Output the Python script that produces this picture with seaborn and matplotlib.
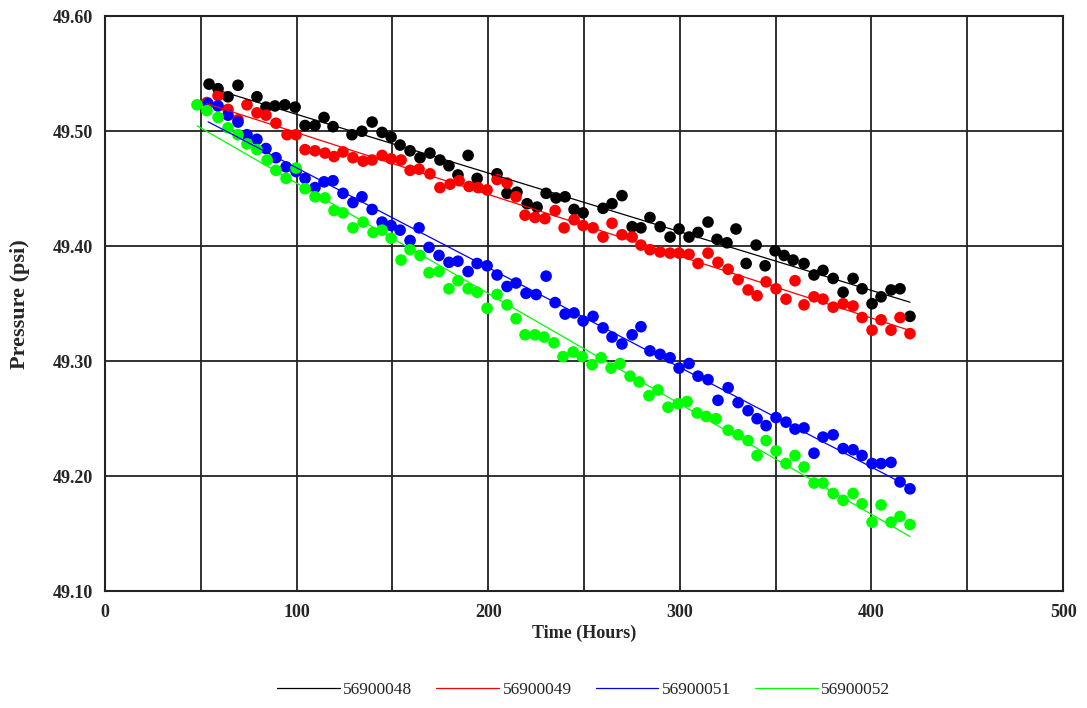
import numpy as np
import matplotlib.pyplot as plt
import seaborn as sns
import pandas as pd

# hours and pressure per transducer
h_48 = [54.3, 59.0, 64.2, 69.4, 79.3, 84.0, 88.7, 93.9, 99.2, 104.4, 109.6, 114.3, 119.0,
        128.9, 134.1, 139.4, 144.6, 149.3, 154.0, 159.2, 164.4, 169.6, 174.8, 179.5, 184.2,
        189.5, 194.2, 204.6, 209.8, 215.0, 220.3, 225.5, 230.2, 235.4, 240.1, 244.8, 249.5,
        259.9, 264.6, 269.8, 275.1, 279.7, 284.4, 289.7, 294.9, 299.6, 304.8, 309.5, 314.7,
        319.4, 324.6, 329.3, 334.6, 339.8, 344.5, 349.7, 354.4, 359.1, 364.8, 370.0, 374.7,
        380.0, 385.2, 390.4, 395.1, 400.3, 405.0, 410.2, 414.9, 420.1]
p_48 = [49.541, 49.537, 49.530, 49.540, 49.530, 49.521, 49.522, 49.523, 49.521, 49.505, 49.505,
        49.512, 49.504, 49.497, 49.500, 49.508, 49.499, 49.495, 49.488, 49.483, 49.477, 49.481,
        49.475, 49.470, 49.462, 49.479, 49.459, 49.463, 49.446, 49.447, 49.437, 49.434, 49.446,
        49.442, 49.443, 49.432, 49.429, 49.433, 49.437, 49.444, 49.417, 49.416, 49.425, 49.417,
        49.408, 49.415, 49.408, 49.412, 49.421, 49.406, 49.403, 49.415, 49.385, 49.401, 49.383,
        49.396, 49.392, 49.388, 49.385, 49.375, 49.379, 49.372, 49.360, 49.372, 49.363, 49.350,
        49.356, 49.362, 49.363, 49.339]

h_49 = [53.2, 59.0, 64.2, 69.4, 74.1, 79.3, 84.0, 89.2, 95.0, 99.7, 104.4, 109.6, 114.8, 119.5,
        124.2, 129.4, 134.7, 139.4, 144.6, 149.3, 154.5, 159.2, 163.9, 169.6, 174.8, 180.1,
        184.8, 190.0, 194.7, 199.4, 204.6, 209.8, 214.5, 219.2, 224.4, 229.6, 234.9, 239.6,
        244.8, 249.5, 254.7, 259.9, 264.6, 269.8, 275.1, 279.7, 284.4, 289.7, 294.9, 299.6,
        304.8, 309.5, 314.7, 319.9, 325.2, 330.4, 335.6, 340.3, 345.0, 350.2, 355.4, 360.1,
        364.8, 370.0, 374.7, 380.0, 385.2, 390.4, 395.1, 400.3, 405.0, 410.2, 414.9, 420.1]
p_49 = [49.525, 49.531, 49.519, 49.510, 49.523, 49.516, 49.514, 49.507, 49.497, 49.497, 49.484,
        49.483, 49.481, 49.478, 49.482, 49.477, 49.474, 49.475, 49.479, 49.476, 49.475, 49.466,
        49.467, 49.463, 49.451, 49.454, 49.457, 49.452, 49.451, 49.449, 49.458, 49.455, 49.443,
        49.427, 49.425, 49.424, 49.431, 49.416, 49.423, 49.418, 49.416, 49.408, 49.420, 49.410,
        49.408, 49.401, 49.397, 49.395, 49.394, 49.394, 49.393, 49.385, 49.394, 49.386, 49.380,
        49.371, 49.362, 49.357, 49.369, 49.363, 49.354, 49.370, 49.349, 49.356, 49.354, 49.347,
        49.350, 49.348, 49.338, 49.327, 49.336, 49.327, 49.338, 49.324]

h_51 = [53.8, 59.0, 64.2, 69.4, 74.1, 79.3, 84.0, 89.2, 94.5, 99.7, 104.4, 109.6, 114.3, 119.0,
        124.2, 129.4, 134.1, 139.4, 144.6, 149.3, 154.0, 159.2, 163.9, 169.1, 174.3, 179.5,
        184.2, 189.5, 194.2, 199.4, 204.6, 209.8, 214.5, 219.7, 225.0, 230.2, 234.9, 240.1,
        244.8, 249.5, 254.7, 259.9, 264.6, 269.8, 275.1, 279.7, 284.4, 289.7, 294.9, 299.6,
        304.8, 309.5, 314.7, 319.9, 325.2, 330.4, 335.6, 340.3, 345.0, 350.2, 355.4, 360.1,
        364.8, 370.0, 374.7, 380.0, 385.2, 390.4, 395.1, 400.3, 405.0, 410.2, 414.9, 420.1]
p_51 = [49.524, 49.522, 49.514, 49.508, 49.497, 49.493, 49.485, 49.477, 49.469, 49.465, 49.459,
        49.451, 49.456, 49.457, 49.446, 49.438, 49.443, 49.432, 49.421, 49.418, 49.414, 49.405,
        49.416, 49.399, 49.392, 49.386, 49.387, 49.378, 49.385, 49.383, 49.375, 49.365, 49.368,
        49.359, 49.358, 49.374, 49.351, 49.341, 49.342, 49.335, 49.339, 49.329, 49.321, 49.315,
        49.323, 49.330, 49.309, 49.306, 49.303, 49.294, 49.298, 49.287, 49.284, 49.266, 49.277,
        49.264, 49.257, 49.250, 49.244, 49.251, 49.247, 49.241, 49.242, 49.220, 49.234, 49.236,
        49.224, 49.223, 49.218, 49.211, 49.211, 49.212, 49.195, 49.189]

h_52 = [48.0, 53.2, 59.0, 64.2, 69.4, 74.1, 79.3, 84.6, 89.2, 94.5, 99.7, 104.4, 109.6, 114.8,
        119.5, 124.2, 129.4, 134.7, 139.9, 144.6, 149.3, 154.5, 159.2, 164.4, 169.1, 174.3,
        179.5, 184.2, 189.5, 194.2, 199.4, 204.6, 209.8, 214.5, 219.2, 224.4, 229.1, 234.3,
        239.0, 244.3, 249.0, 254.2, 258.9, 264.1, 268.8, 274.0, 278.7, 283.9, 288.6, 293.8,
        299.1, 303.8, 309.0, 313.7, 318.9, 325.2, 330.4, 335.6, 340.3, 345.0, 350.2, 355.4,
        360.1, 364.8, 370.0, 374.7, 380.0, 385.2, 390.4, 395.1, 400.3, 405.0, 410.2, 414.9, 420.1]
p_52 = [49.523, 49.518, 49.512, 49.503, 49.497, 49.489, 49.484, 49.475, 49.466, 49.459, 49.468,
        49.450, 49.443, 49.442, 49.431, 49.429, 49.416, 49.421, 49.412, 49.414, 49.407, 49.388,
        49.397, 49.392, 49.377, 49.378, 49.363, 49.370, 49.363, 49.360, 49.346, 49.358, 49.349,
        49.337, 49.323, 49.323, 49.321, 49.316, 49.304, 49.308, 49.304, 49.297, 49.303, 49.294,
        49.298, 49.287, 49.282, 49.270, 49.275, 49.260, 49.263, 49.265, 49.255, 49.252, 49.250,
        49.240, 49.236, 49.231, 49.218, 49.231, 49.222, 49.211, 49.218, 49.208, 49.194, 49.194,
        49.185, 49.179, 49.185, 49.176, 49.160, 49.175, 49.160, 49.165, 49.158]

series = [('56900048', h_48, p_48, '#000000'),
          ('56900049', h_49, p_49, '#ff0000'),
          ('56900051', h_51, p_51, '#0000ff'),
          ('56900052', h_52, p_52, '#00ff00')]

sns.set_style('white')
plt.rcParams['font.family'] = ['Liberation Serif', 'DejaVu Serif']

fig = plt.figure(figsize=(10.87, 7.08), dpi=100)
ax = fig.add_axes([0.0966, 0.165, 0.8814, 0.812])

for name, h, p, c in series:
    df = pd.DataFrame({'Hours': h, 'Pressure': p})
    sns.scatterplot(x='Hours', y='Pressure', data=df, color=c, s=70,
                    edgecolor='none', ax=ax, zorder=3)
for name, h, p, c in series:
    df = pd.DataFrame({'Hours': h, 'Pressure': p})
    sns.regplot(x='Hours', y='Pressure', data=df, scatter=False, ci=None,
                color=c, line_kws={'lw': 0.9, 'zorder': 4}, label=name, ax=ax)

ax.set_xlim(0, 500)
ax.set_ylim(49.10, 49.60)
ax.set_xticks(np.arange(0, 501, 100))
ax.set_xticks(np.arange(0, 501, 50), minor=True)
ax.set_yticks(np.arange(49.10, 49.601, 0.10))
ax.set_yticklabels(['%.2f' % v for v in np.arange(49.10, 49.601, 0.10)])
ax.grid(True, which='both', color='#222222', lw=1.3)
ax.set_axisbelow(True)
for s in ax.spines.values():
    s.set_color('#222222')
    s.set_linewidth(1.5)
ax.tick_params(axis='both', which='both', length=0, labelsize=13, pad=9)
for t in ax.get_xticklabels() + ax.get_yticklabels():
    t.set_fontweight('bold')
ax.set_xlabel('Time (Hours)', fontsize=13, fontweight='bold', labelpad=3)
ax.set_ylabel('Pressure (psi)', fontsize=16, fontweight='bold', labelpad=16)

handles, labels = ax.get_legend_handles_labels()
fig.legend(handles, labels, loc='lower center', bbox_to_anchor=(0.537, -0.008), ncol=4,
           frameon=False, fontsize=12.5, handlelength=3.6, handletextpad=0.2,
           columnspacing=1.4)

fig.savefig('out.png', dpi=100)
